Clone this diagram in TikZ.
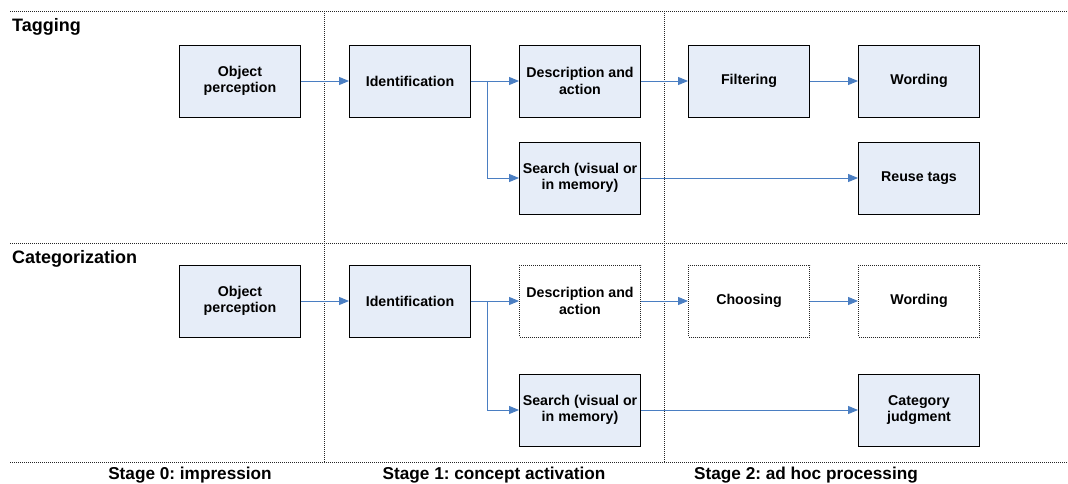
\documentclass[tikz,border=0pt]{standalone}
\usepackage{fontspec}
\setmainfont{Liberation Sans}
\usetikzlibrary{arrows.meta}
\definecolor{boxfill}{HTML}{E6EDF8}
\definecolor{arrowblue}{HTML}{4A7EC2}
\frenchspacing
\tikzset{
  x=1pt,y=-1pt,
  procbox/.style={draw=black,line width=0.9pt,fill=boxfill,minimum width=121pt,minimum height=72pt,inner sep=0pt,align=center,font=\fontsize{14.2}{16.5}\selectfont\bfseries},
  openbox/.style={procbox,fill=white,draw=black!85,dash pattern=on 1pt off 1pt},
  flow/.style={draw=arrowblue,line width=0.9pt,-{Triangle[length=10pt,width=8pt]}},
  sep/.style={draw=black!85,line width=0.8pt,dash pattern=on 1pt off 1pt},
  rowlabel/.style={anchor=west,inner sep=0pt,font=\fontsize{18}{21}\selectfont\bfseries},
  stagelabel/.style={inner sep=0pt,font=\fontsize{17.2}{20}\selectfont\bfseries}
}
\begin{document}
\begin{tikzpicture}
\useasboundingbox (0,0) rectangle (1068,484);
% separators
\draw[sep] (10,11) -- (1068,11);
\draw[sep] (10,243) -- (1068,243);
\draw[sep] (10,462) -- (1068,462);
\draw[sep] (324,11) -- (324,462);
\draw[sep] (664,11) -- (664,462);
% row labels
\node[rowlabel] (tag) at (12,26.5) {Tagging};
\node[rowlabel] (cat) at (12,258.5) {Categorization};
% tagging row
\node[procbox] (op1) at (240,81) {Object\\perception};
\node[procbox] (id1) at (410,81) {Identification};
\node[procbox] (de1) at (580,81) {Description and\\action};
\node[procbox] (fi1) at (749,81) {Filtering};
\node[procbox] (wo1) at (919,81) {Wording};
\node[procbox] (se1) at (580,178) {Search (visual or\\in memory)};
\node[procbox] (re1) at (919,178) {Reuse tags};
% categorization row
\node[procbox] (op2) at (240,301) {Object\\perception};
\node[procbox] (id2) at (410,301) {Identification};
\node[openbox] (de2) at (580,301) {Description and\\action};
\node[openbox] (ch2) at (749,301) {Choosing};
\node[openbox] (wo2) at (919,301) {Wording};
\node[procbox] (se2) at (580,410) {Search (visual or\\in memory)};
\node[procbox] (cj2) at (919,410) {Category\\judgment};
% connectors tagging
\draw[flow] (op1) -- (id1);
\draw[flow] (id1) -- (de1);
\coordinate (b1) at (487,81);
\draw[flow] (b1) |- (se1);
\draw[flow] (de1) -- (fi1);
\draw[flow] (fi1) -- (wo1);
\draw[flow] (se1) -- (re1);
% connectors categorization
\draw[flow] (op2) -- (id2);
\draw[flow] (id2) -- (de2);
\coordinate (b2) at (487,301);
\draw[flow] (b2) |- (se2);
\draw[flow] (de2) -- (ch2);
\draw[flow] (ch2) -- (wo2);
\draw[flow] (se2) -- (cj2);
% stage labels
\node[stagelabel] (s0) at (190,475) {Stage 0: impression};
\node[stagelabel] (s1) at (494,475) {Stage 1: concept activation};
\node[stagelabel] (s2) at (806,475) {Stage 2: ad hoc processing};
\end{tikzpicture}
\end{document}
